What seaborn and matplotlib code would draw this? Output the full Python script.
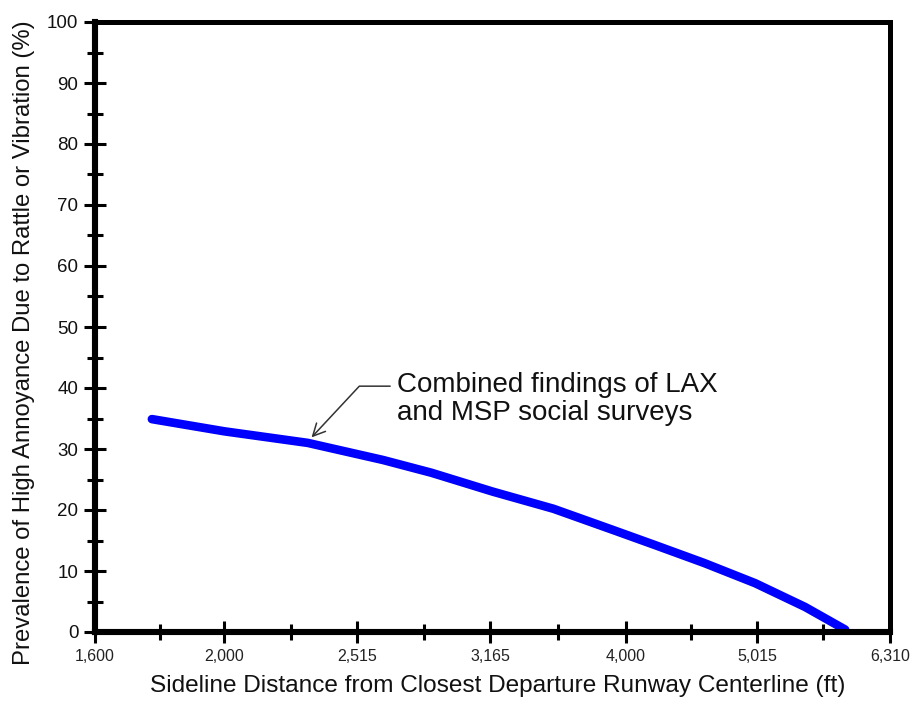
import matplotlib
matplotlib.use("Agg")
import matplotlib.pyplot as plt
from matplotlib.ticker import FixedLocator, FixedFormatter, NullFormatter
import seaborn as sns
import pandas as pd
import numpy as np

# Sideline distance (ft) and prevalence of high annoyance (%)
distance_ft = [1765, 2000, 2310, 2630, 2860, 3180, 3530, 3915, 4200, 4580, 5000, 5450, 5840]
prevalence_pct = [34.9, 32.9, 31.0, 28.2, 26.1, 23.0, 20.2, 16.7, 14.3, 11.3, 8.0, 4.1, 0.4]

x_tick_values = [1600, 2000, 2515, 3165, 4000, 5015, 6310]
x_tick_labels = ["1,600", "2,000", "2,515", "3,165", "4,000", "5,015", "6,310"]
y_tick_values = [0, 10, 20, 30, 40, 50, 60, 70, 80, 90, 100]

sns.set_theme(style="white")
plt.rcParams["font.family"] = ["Liberation Sans", "DejaVu Sans"]

df = pd.DataFrame({"distance": distance_ft, "prevalence": prevalence_pct})

fig = plt.figure(figsize=(9.15, 7.04), dpi=100)
ax = fig.add_axes([95 / 915, 72 / 704, 795 / 915, 610 / 704])

sns.lineplot(data=df, x="distance", y="prevalence", ax=ax, color="#0000ff",
             linewidth=6.2, solid_capstyle="round", solid_joinstyle="round")

ax.set_xscale("log")
ax.set_xlim(x_tick_values[0], x_tick_values[-1])
ax.set_ylim(0, 100)

ax.xaxis.set_major_locator(FixedLocator(x_tick_values))
ax.xaxis.set_major_formatter(FixedFormatter(x_tick_labels))
minor_x = [np.sqrt(a * b) for a, b in zip(x_tick_values[:-1], x_tick_values[1:])]
ax.xaxis.set_minor_locator(FixedLocator(minor_x))
ax.xaxis.set_minor_formatter(NullFormatter())

ax.yaxis.set_major_locator(FixedLocator(y_tick_values))
ax.yaxis.set_minor_locator(FixedLocator(list(range(5, 100, 10))))

for side in ["left", "bottom", "top", "right"]:
    ax.spines[side].set_color("black")
ax.spines["left"].set_linewidth(4.4)
ax.spines["bottom"].set_linewidth(4.4)
ax.spines["top"].set_linewidth(3.6)
ax.spines["right"].set_linewidth(3.6)

ax.tick_params(axis="both", which="major", direction="inout", length=16, width=2.2,
               color="black", bottom=True, left=True)
ax.tick_params(axis="both", which="minor", direction="inout", length=11, width=2.2,
               color="black", bottom=True, left=True)
ax.tick_params(axis="y", which="major", labelsize=13.5, pad=4, labelcolor="#111111")
ax.tick_params(axis="x", which="major", labelsize=11.5, pad=4, labelcolor="#222222")

ax.set_xlabel("Sideline Distance from Closest Departure Runway Centerline (ft)",
              fontsize=17.6, color="#111111")
ax.set_ylabel("Prevalence of High Annoyance Due to Rattle or Vibration (%)",
              fontsize=17.2, color="#111111")
ax.xaxis.set_label_coords(0.507, -0.071)
ax.yaxis.set_label_coords(-0.0755, 0.474)

# Callout label with an elbow leader pointing at the curve
ax.text(2695, 38.2, "Combined findings of LAX\nand MSP social surveys",
        fontsize=20, color="#111111", ha="left", va="center", linespacing=1.1)
ax.annotate("", xy=(2325, 31.9), xycoords="data",
            xytext=(2663, 40.3), textcoords="data",
            arrowprops=dict(arrowstyle="->", color="#333333", lw=1.1,
                            connectionstyle="angle,angleA=0,angleB=47,rad=0",
                            mutation_scale=22, shrinkA=0, shrinkB=0))

fig.savefig("out.png", dpi=100)
